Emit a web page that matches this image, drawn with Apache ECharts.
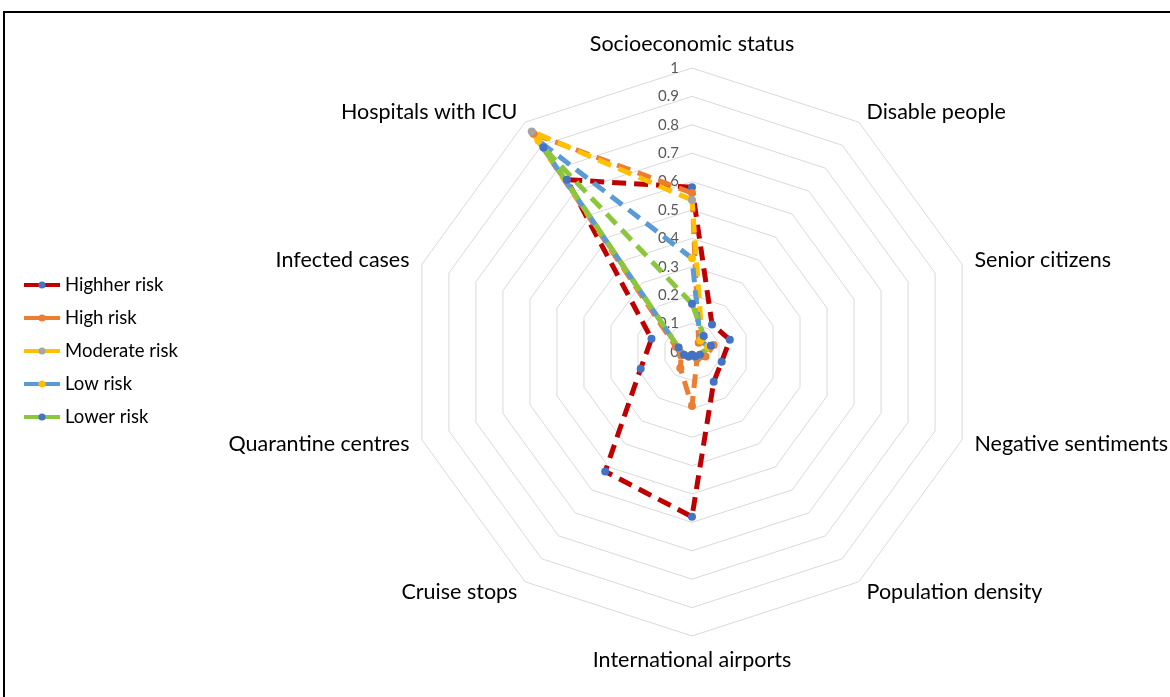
<!DOCTYPE html>
<html>
<head>
<meta charset="utf-8">
<script src="https://cdn.jsdelivr.net/npm/echarts@6/dist/echarts.min.js"></script>
<style>
  html, body { margin:0; padding:0; background:#fff; width:1170px; height:697px; overflow:hidden; }
  #frame { position:absolute; left:3px; top:11px; width:1300px; height:900px; border-top:2px solid #000; border-left:2px solid #000; }
  #chart { position:absolute; left:0; top:0; width:1170px; height:697px; }
</style>
</head>
<body>
<div id="frame"></div>
<div id="chart"></div>
<script>
// categories listed clockwise from the top
const categories = ["Socioeconomic status","Disable people","Senior citizens","Negative sentiments","Population density","International airports","Cruise stops","Quarantine centres","Infected cases","Hospitals with ICU"];
const tickLabels = ["0","0.1","0.2","0.3","0.4","0.5","0.6","0.7","0.8","0.9","1"];
const seriesNames = ["Highher risk","High risk","Moderate risk","Low risk","Lower risk"];
const highherRisk = [0.58, 0.12, 0.14, 0.11, 0.13, 0.58, 0.52, 0.19, 0.15, 0.75];
const highRisk    = [0.56, 0.04, 0.08, 0.05, 0.03, 0.19, 0.07, 0.04, 0.06, 0.95];
const moderateRisk= [0.535,0.06, 0.07, 0.03, 0.02, 0.01, 0.02, 0.03, 0.05, 0.96];
const lowRisk     = [0.33, 0.05, 0.06, 0.03, 0.02, 0.01, 0.02, 0.03, 0.05, 0.92];
const lowerRisk   = [0.17, 0.07, 0.07, 0.03, 0.02, 0.01, 0.02, 0.03, 0.05, 0.89];

const values = [highherRisk, highRisk, moderateRisk, lowRisk, lowerRisk];
const lineColors = ["#c00000","#ed7d31","#ffc000","#5b9bd5","#8cc63e"];
const markerColors = ["#4472c4","#ed7d31","#a5a5a5","#ffc000","#4472c4"];

// ECharts radar lays indicators counter-clockwise; reorder so they run clockwise
const order = categories.map((_, i) => i === 0 ? 0 : categories.length - i);

const chart = echarts.init(document.getElementById('chart'));
const FONT = 'Lato, "Open Sans", sans-serif';

const indicator = order.map((k, i) => {
  const o = { name: categories[k], min: 0, max: 1 };
  if (i === 0) {
    o.axisLabel = {
      show: true, color: '#595959', fontSize: 15, fontFamily: FONT, margin: 13,
      formatter: v => tickLabels[Math.round(v * 10)]
    };
  }
  return o;
});

const option = {
  animation: false,
  legend: {
    orient: 'vertical', left: 17, top: 270,
    itemWidth: 36, itemHeight: 9, itemGap: 13,
    textStyle: { fontSize: 18.5, fontFamily: FONT, color: '#000', lineHeight: 20 },
    lineStyle: { type: 'solid', width: 4 },
    itemStyle: { borderWidth: 0 },
    data: seriesNames
  },
  grid: { show: false, left: 0, top: 0, width: 1, height: 1 },
  xAxis: { show: false, type: 'value' },
  yAxis: { show: false, type: 'value' },
  radar: {
    center: [692, 352], radius: 284, startAngle: 90,
    splitNumber: 10, shape: 'polygon',
    nameGap: 13,
    axisName: { color: '#000', fontSize: 21.5, fontFamily: FONT },
    splitLine: { lineStyle: { color: '#d9d9d9', width: 1 } },
    splitArea: { show: false },
    axisLine: { show: false },
    axisTick: { show: false },
    axisLabel: { show: false },
    indicator: indicator
  },
  series: [
    {
      type: 'radar',
      symbol: 'circle', symbolSize: 8,
      data: seriesNames.map((n, i) => ({
        name: n, value: order.map(k => values[i][k]),
        lineStyle: { color: lineColors[i], width: 5, type: [14, 8] },
        itemStyle: { color: markerColors[i] }
      }))
    }
  ].concat(seriesNames.map((n, i) => ({
    type: 'line', name: n, data: [],
    symbol: 'circle',
    lineStyle: { color: lineColors[i], width: 4 },
    itemStyle: { color: markerColors[i] }
  })))
};
chart.setOption(option);
</script>
</body>
</html>
